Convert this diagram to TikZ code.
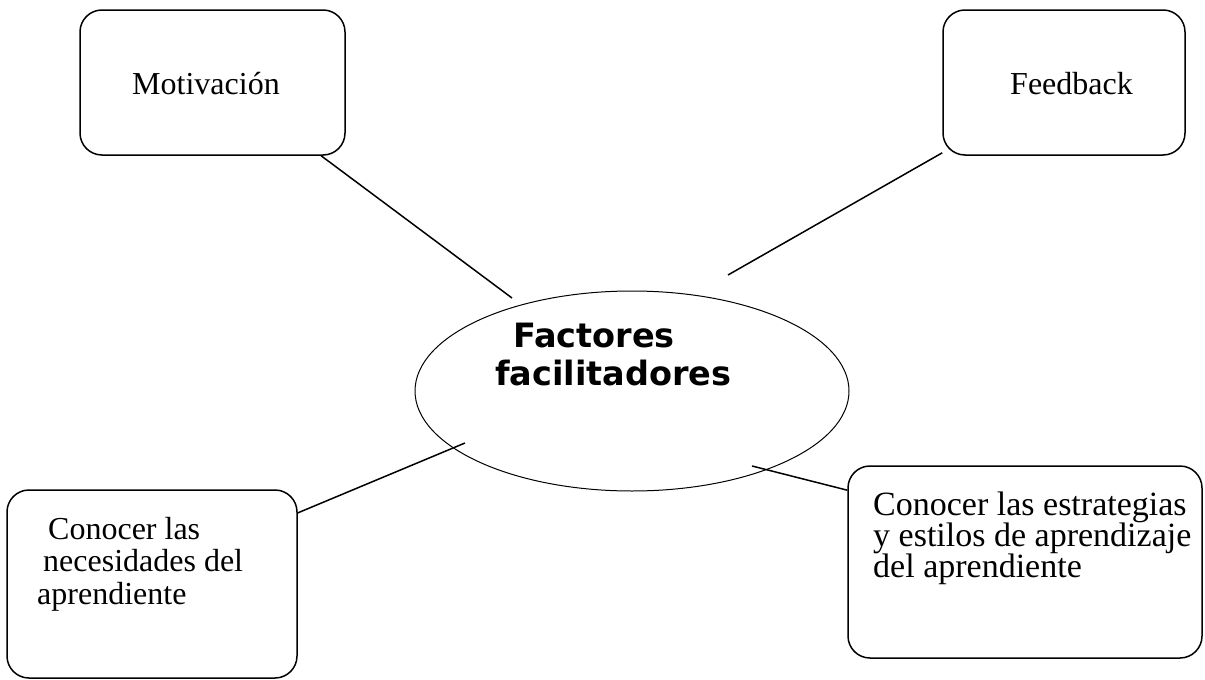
\documentclass[tikz,border=0pt]{standalone}
\usepackage{fontspec}
\setmainfont{Liberation Serif}
\newfontfamily\boldsans{DejaVu Sans}
\usetikzlibrary{shapes.geometric}
\usetikzlibrary{positioning}

\begin{document}
\begin{tikzpicture}[x=1pt,y=-1pt,
  box/.style={draw,line width=1.5pt,rounded corners=22pt,inner sep=0pt},
  txt/.style={font=\fontsize{32}{32}\selectfont,inner sep=0pt,anchor=base west},
  bigtxt/.style={font=\fontsize{34}{32}\selectfont,inner sep=0pt,anchor=base west},
  conn/.style={line width=1.5pt}]
  \useasboundingbox (0,0) rectangle (1205,680);
  % centre
  \node [draw,ellipse,line width=1pt,minimum width=434pt,minimum height=200pt] (ff) at (632,391){};
  \node [inner sep=0pt,anchor=base west,font=\boldsans\bfseries\fontsize{33.5}{33}\selectfont] (ff1) at (513,347){Factores};
  \node [inner sep=0pt,anchor=base west,font=\boldsans\bfseries\fontsize{33.5}{33}\selectfont] (ff2) at (495,385){facilitadores};
  % boxes
  \node [box,minimum width=265pt,minimum height=145pt] (mot) at (212.5,82.5){};
  \node [txt] (mot1) at (132,94){Motivación};
  \node [box,minimum width=242pt,minimum height=145pt] (fb) at (1064,82.5){};
  \node [txt] (fb1) at (1010,94){Feedback};
  \node [box,minimum width=290pt,minimum height=188pt] (nec) at (152,584){};
  \node [txt] (nec1) at (48,539){Conocer las};
  \node [txt] (nec2) at (43,571){necesidades del};
  \node [txt] (nec3) at (37,604){aprendiente};
  \node [box,minimum width=354pt,minimum height=192pt] (est) at (1025,562){};
  \node [bigtxt] (est1) at (873,515){Conocer las estrategias};
  \node [bigtxt] (est2) at (873,546){y estilos de aprendizaje};
  \node [bigtxt] (est3) at (873,577){del aprendiente};
  % line ends on the ellipse
  \coordinate (e1) at (512,298);
  \coordinate (e2) at (728,275);
  \coordinate (e3) at (465,443);
  \coordinate (e4) at (752,466);
  \draw[conn](mot.-34)--(e1);
  \draw[conn](fb.210)--(e2);
  \draw[conn](nec.26)--(e3);
  \draw[conn](est.158)--(e4);
\end{tikzpicture}
\end{document}
